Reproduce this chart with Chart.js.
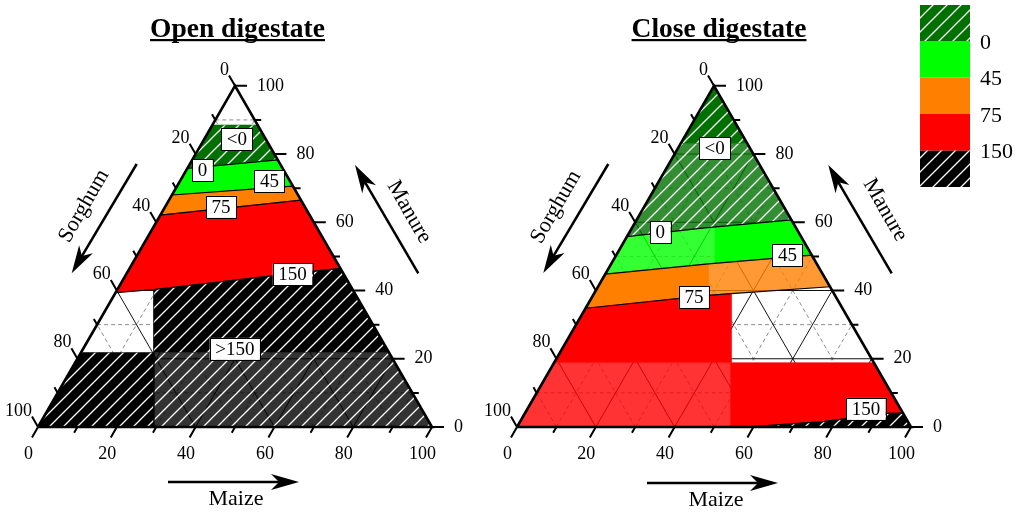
<!DOCTYPE html>
<html>
<head>
<meta charset="utf-8">
<script src="https://cdn.jsdelivr.net/npm/chart.js@4.4.0/dist/chart.umd.min.js"></script>
<style>
  html, body { margin: 0; padding: 0; background: #fff; }
  canvas { display: block; }
</style>
</head>
<body>
<canvas id="tern" width="1024" height="519"></canvas>
<script>
// every point is [maize %, manure %]; sorghum is the rest
const ticks = [0, 10, 20, 30, 40, 50, 60, 70, 80, 90, 100];
const tickLabels = [0, 20, 40, 60, 80, 100];
const legendLabels = ['0', '45', '75', '150'];
const panelTitles = ['Open digestate', 'Close digestate'];

// open digestate: contour lines, left edge -> right edge
const openTop  = [[0, 88.5], [11.5, 88.5]];
const openC0   = [[0, 75.8], [21.7, 78.3]];
const openC45  = [[0, 68.0], [29.4, 70.6]];
const openC75  = [[0, 62.1], [33.5, 66.5]];
const openC150 = [[0, 39.4], [9.3, 40.3], [37.2, 44.3], [53.5, 46.5]];

// close digestate
const closeApex = [[0, 100]];
const closeC0   = [[0, 55.8], [17.3, 58.2], [39.3, 60.7]];
const closeC45  = [[0, 44.8], [24.65, 47.8], [49.6, 50.4]];
const closeC75  = [[0, 34.8], [29.25, 38.6], [34.8, 39.1], [58.9, 41.1]];
const closeC150 = [[57.9, 0], [77.0, 1.6], [91.8, 4.0], [95.9, 4.1]];

const baseLine = [[0, 0], [100, 0]];

// contour label text and where it sits
const openLabels  = [['<0', [8.3, 84.4]], ['0', [4.15, 75.2]], ['45', [22.7, 72.1]],
                     ['75', [14.2, 64.5]], ['150', [42.2, 44.8]], ['>150', [38.5, 22.9]]];
const closeLabels = [['<0', [9.3, 81.7]], ['0', [7.8, 57.15]], ['45', [43.5, 50.3]],
                     ['75', [25.9, 38.0]], ['150', [85.9, 5.3]]];

// classes: <0, 0-45, 45-75, 75-150, >150
const classStyle = [
  { rgb: [0, 112, 0], hatch: true },
  { rgb: [0, 255, 0] },
  { rgb: [255, 128, 0] },
  { rgb: [255, 0, 0] },
  { rgb: [0, 0, 0], hatch: true }
];

// areas drawn faded (grid showing through) or left blank; x = position along base, n = manure
const bands = [
  { panel: 0, upper: openTop,  lower: openC0,   cls: 0 },
  { panel: 0, upper: openC0,   lower: openC45,  cls: 1 },
  { panel: 0, upper: openC45,  lower: openC75,  cls: 2 },
  { panel: 0, upper: openC75,  lower: openC150, cls: 3 },
  { panel: 0, upper: openC150, lower: baseLine, cls: 4,
    cells: [{ x: [29.4, 100], n: [0, 21.8], mode: 'fade' }, { x: [0, 29.4], n: [21.8, 100], mode: 'blank' }] },
  { panel: 1, upper: closeApex, lower: closeC0, cls: 0,
    cells: [{ x: [0, 100], n: [0, 83.1], mode: 'fade' }] },
  { panel: 1, upper: closeC0, lower: closeC45, cls: 1,
    cells: [{ x: [0, 50.25], n: [0, 100], mode: 'fade' }] },
  { panel: 1, upper: closeC45, lower: closeC75, cls: 2,
    cells: [{ x: [48.55, 100], n: [0, 100], mode: 'fade' }] },
  { panel: 1, upper: closeC75, lower: [[0, 0]].concat(closeC150), cls: 3,
    cells: [{ x: [54.31, 100], n: [18.85, 100], mode: 'blank' }, { x: [0, 54.31], n: [0, 18.85], mode: 'fade' }] },
  { panel: 1, upper: closeC150, lower: [[57.9, 0], [100, 0]], cls: 4 }
];
const contours = [[0, openC0], [0, openC45], [0, openC75], [0, openC150],
                  [1, closeC0], [1, closeC45], [1, closeC75], [1, closeC150]];

// layout
const SQ = Math.sqrt(3) / 2;
const PX = 3.94;
const OFFSET = [0, 479 / PX];
const FONT = "'Liberation Serif', 'Times New Roman', serif";
const FADE = 0.8;

const cart = ([m, n]) => [m + n / 2, n * SQ];

function hatch(fill, size = 14) {
  const c = document.createElement('canvas');
  c.width = c.height = size;
  const g = c.getContext('2d');
  g.fillStyle = fill;
  g.fillRect(0, 0, size, size);
  g.strokeStyle = '#fff';
  g.lineWidth = 1.3;
  g.beginPath();
  g.moveTo(0, size); g.lineTo(size, 0);
  g.moveTo(-size / 2, size / 2); g.lineTo(size / 2, -size / 2);
  g.moveTo(size / 2, size * 1.5); g.lineTo(size * 1.5, size / 2);
  g.stroke();
  return g.createPattern(c, 'repeat');
}

function paint(cls, alpha) {
  const s = classStyle[cls];
  const col = `rgba(${s.rgb.join(',')},${alpha})`;
  return s.hatch ? hatch(col) : col;
}

function clip(poly, axis, v, keepAbove) {
  const out = [];
  for (let i = 0; i < poly.length; i++) {
    const a = poly[i], b = poly[(i + 1) % poly.length];
    const ina = keepAbove ? a[axis] >= v : a[axis] <= v;
    const inb = keepAbove ? b[axis] >= v : b[axis] <= v;
    if (ina) out.push(a);
    if (ina !== inb) {
      const t = (v - a[axis]) / (b[axis] - a[axis]);
      out.push([a[0] + t * (b[0] - a[0]), a[1] + t * (b[1] - a[1])]);
    }
  }
  return out;
}

function splitByCells(poly, cells) {
  let rest = [poly];
  const out = [];
  for (const c of cells || []) {
    const x1 = c.x[0], x2 = c.x[1], y1 = c.n[0] * SQ, y2 = c.n[1] * SQ;
    const next = [];
    for (const p of rest) {
      const mid = clip(clip(p, 0, x1, true), 0, x2, false);
      out.push({ pts: clip(clip(mid, 1, y1, true), 1, y2, false), mode: c.mode });
      next.push(clip(p, 0, x1, false), clip(p, 0, x2, true), clip(mid, 1, y1, false), clip(mid, 1, y2, true));
    }
    rest = next.filter(p => p.length > 2);
  }
  rest.forEach(p => out.push({ pts: p, mode: 'solid' }));
  return out.filter(o => o.pts.length > 2);
}

const datasets = [];
function add(ds) {
  datasets.push(Object.assign({ showLine: true, pointRadius: 0, borderWidth: 0, tension: 0 }, ds));
}
function segData(segs, off) {
  const d = [];
  segs.forEach(s => { s.forEach(([x, y]) => d.push({ x: x + off, y })); d.push({ x: null, y: null }); });
  return d;
}

// grid lines under the fills
[0, 1].forEach(p => {
  const minor = [], major = [];
  ticks.slice(1, -1).forEach(v => {
    const list = v % 20 === 0 ? major : minor;
    list.push([[0, v], [100 - v, v]].map(cart));
    list.push([[v, 0], [v, 100 - v]].map(cart));
    list.push([[100 - v, 0], [0, 100 - v]].map(cart));
  });
  add({ data: segData(minor, OFFSET[p]), borderColor: '#8c8c8c', borderWidth: 1, borderDash: [4, 3] });
  add({ data: segData(major, OFFSET[p]), borderColor: '#111', borderWidth: 1 });
});

// filled classes
bands.forEach(b => {
  const poly = b.upper.map(cart).concat(b.lower.slice().reverse().map(cart));
  splitByCells(poly, b.cells).forEach(piece => {
    if (piece.mode === 'blank') return;
    const solid = piece.mode === 'solid';
    const pts = piece.pts.concat([piece.pts[0]]);
    add({
      data: pts.map(([x, y]) => ({ x: x + OFFSET[b.panel], y })),
      fill: 'shape',
      backgroundColor: paint(b.cls, solid ? 1 : FADE),
      borderColor: `rgb(${classStyle[b.cls].rgb.join(',')})`,
      borderWidth: solid ? 0.6 : 0
    });
  });
});

// contour lines
contours.forEach(([p, c]) => add({ data: segData([c.map(cart)], OFFSET[p]), borderColor: '#000', borderWidth: 1.2 }));

// triangle frame and ticks
[0, 1].forEach(p => {
  const tk = [];
  ticks.forEach(v => {
    const len = (v % 20 === 0 ? 12 : 6.5) / PX;
    let [x, y] = cart([v, 0]);
    tk.push([[x, y], [x - 0.5 * len, y - SQ * len]]);
    [x, y] = cart([100 - v, v]);
    tk.push([[x, y], [x + len, y]]);
    [x, y] = cart([0, 100 - v]);
    tk.push([[x, y], [x - 0.5 * len, y + SQ * len]]);
  });
  add({ data: segData(tk, OFFSET[p]), borderColor: '#000', borderWidth: 2 });
  add({ data: segData([[[0, 0], [100, 0], [0, 100], [0, 0]].map(cart)], OFFSET[p]),
        borderColor: '#000', borderWidth: 2.6, borderJoinStyle: 'miter' });
});
datasets.forEach((d, i) => { d.order = 100000 - i; });

function arrow(ctx, x1, y1, x2, y2) {
  const a = Math.atan2(y2 - y1, x2 - x1);
  ctx.lineWidth = 2.5;
  ctx.beginPath();
  ctx.moveTo(x1, y1);
  ctx.lineTo(x2 - Math.cos(a) * 18, y2 - Math.sin(a) * 18);
  ctx.stroke();
  ctx.save();
  ctx.translate(x2, y2);
  ctx.rotate(a);
  ctx.beginPath();
  ctx.moveTo(0, 0); ctx.lineTo(-28, -8); ctx.lineTo(-20, 0); ctx.lineTo(-28, 8);
  ctx.closePath();
  ctx.fill();
  ctx.restore();
}

function rotText(ctx, t, x, y, ang) {
  ctx.save();
  ctx.translate(x, y);
  ctx.rotate(ang);
  ctx.fillText(t, 0, 0);
  ctx.restore();
}

const decor = {
  id: 'decor',
  afterDatasetsDraw(chart) {
    const { ctx, scales: { x: xs, y: ys } } = chart;
    const pix = (p, [xd, yd]) => [xs.getPixelForValue(xd + OFFSET[p]), ys.getPixelForValue(yd)];
    ctx.save();
    ctx.fillStyle = '#000';
    ctx.strokeStyle = '#000';

    // tick labels
    ctx.font = `18px ${FONT}`;
    ctx.textBaseline = 'middle';
    [0, 1].forEach(p => {
      tickLabels.forEach(v => {
        let [x, y] = pix(p, cart([v, 0]));
        ctx.textAlign = 'center';
        ctx.fillText(String(v), x - 9.5, y + 27.5);
        [x, y] = pix(p, cart([0, 100 - v]));
        ctx.textAlign = 'right';
        ctx.fillText(String(v), x - 6, y - 16);
        [x, y] = pix(p, cart([100 - v, v]));
        ctx.textAlign = 'left';
        ctx.fillText(String(v), x + 22, y);
      });
    });

    // contour value boxes
    ctx.font = `19px ${FONT}`;
    [[0, openLabels], [1, closeLabels]].forEach(([p, list]) => {
      list.forEach(([t, at]) => {
        const [cx, cy] = pix(p, cart(at));
        const w = ctx.measureText(t).width + 11, h = 22;
        ctx.fillStyle = '#fff';
        ctx.fillRect(cx - w / 2, cy - h / 2, w, h);
        ctx.lineWidth = 1;
        ctx.strokeRect(Math.round(cx - w / 2) + 0.5, Math.round(cy - h / 2) + 0.5, Math.round(w), h);
        ctx.fillStyle = '#000';
        ctx.textAlign = 'center';
        ctx.fillText(t, cx, cy + 1);
      });
    });

    // axis names and arrows
    ctx.font = `22px ${FONT}`;
    ctx.textAlign = 'center';
    const axisDecor = [
      { sorg: [136.7, 164, 71.7, 273.3, 84, 206], man: [418.3, 273.3, 355, 165, 409, 212], maize: [168, 299, 482, 236, 499] },
      { sorg: [608.3, 164, 543.3, 273, 556, 207], man: [891.7, 273.3, 828.3, 165, 885, 210], maize: [647, 778, 483, 716, 500] }
    ];
    axisDecor.forEach(a => {
      arrow(ctx, a.sorg[0], a.sorg[1], a.sorg[2], a.sorg[3]);
      rotText(ctx, 'Sorghum', a.sorg[4], a.sorg[5], -Math.PI / 3);
      arrow(ctx, a.man[0], a.man[1], a.man[2], a.man[3]);
      rotText(ctx, 'Manure', a.man[4], a.man[5], Math.PI / 3);
      arrow(ctx, a.maize[0], a.maize[2], a.maize[1], a.maize[2]);
      ctx.fillText('Maize', a.maize[3], a.maize[4]);
    });

    // titles
    ctx.font = `bold 27.5px ${FONT}`;
    ctx.textBaseline = 'alphabetic';
    [[237.5, panelTitles[0]], [719, panelTitles[1]]].forEach(([cx, t]) => {
      const w = ctx.measureText(t).width;
      ctx.fillText(t, cx, 36.5);
      ctx.fillRect(cx - w / 2, 39, w, 2.2);
    });

    // legend
    const edges = [5, 41, 77.3, 114, 150.7, 187];
    classStyle.forEach((s, i) => {
      ctx.fillStyle = paint(i, 1);
      ctx.fillRect(920, edges[i], 50, edges[i + 1] - edges[i]);
    });
    ctx.fillStyle = '#000';
    ctx.font = `22px ${FONT}`;
    ctx.textAlign = 'left';
    ctx.textBaseline = 'middle';
    legendLabels.forEach((t, i) => ctx.fillText(t, 980, edges[i + 1] + 2));
    ctx.restore();
  }
};

new Chart(document.getElementById('tern'), {
  type: 'scatter',
  data: { datasets },
  options: {
    responsive: false,
    animation: false,
    layout: { padding: 0 },
    scales: {
      x: { type: 'linear', min: -38 / PX, max: (1024 - 38) / PX, display: false },
      y: { type: 'linear', min: (427 - 519) / PX, max: 427 / PX, display: false }
    },
    plugins: { legend: { display: false }, tooltip: { enabled: false } },
    events: []
  },
  plugins: [decor]
});
</script>
</body>
</html>
